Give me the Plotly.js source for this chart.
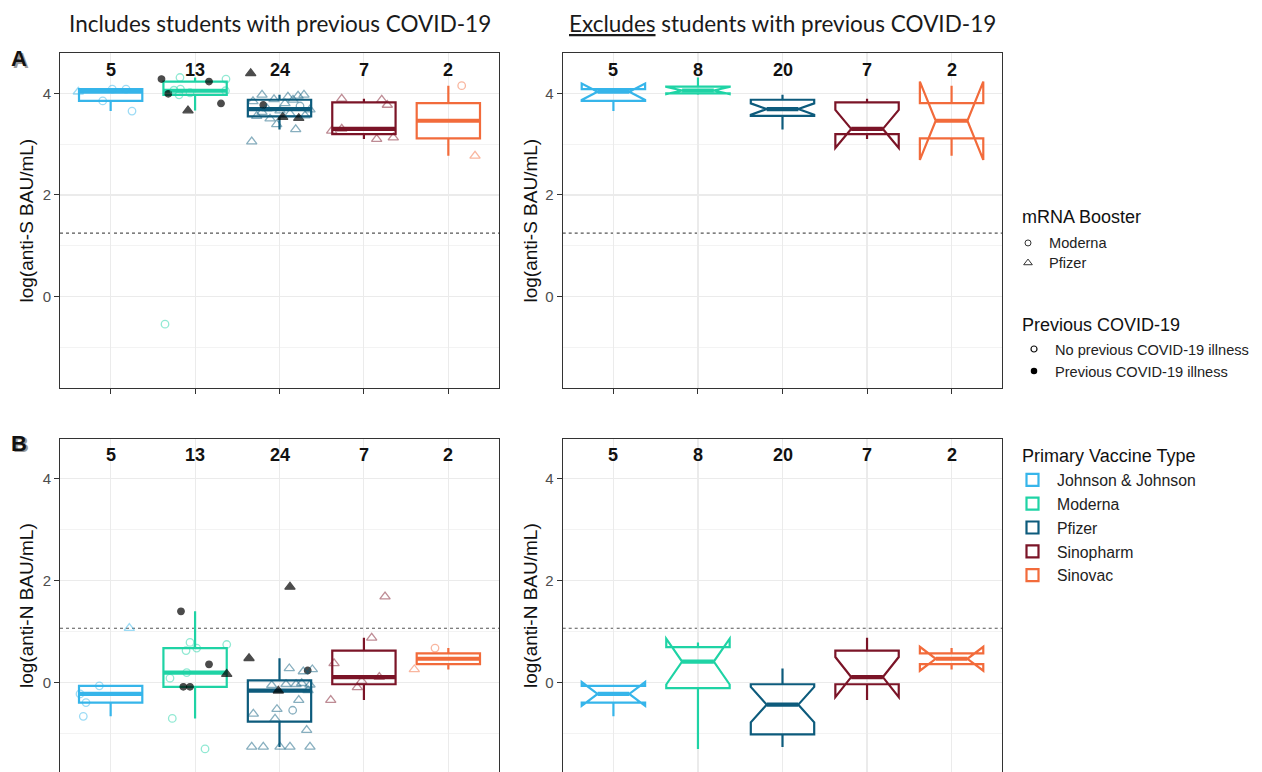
<!DOCTYPE html>
<html><head><meta charset="utf-8">
<script src="https://cdn.plot.ly/plotly-3.0.1.min.js"></script>
<style>html,body{margin:0;padding:0;overflow:hidden;background:#fff}#chart{width:1262px;height:800px}</style>
</head><body><div id="chart"></div>
<script>
// ---------------- data ----------------
const vaccines = ['Johnson & Johnson','Moderna','Pfizer','Sinopharm','Sinovac'];
const vaccineColors = ['#36B5EA','#1FD3A5','#0D5B7C','#7B1427','#F26B3B'];
const countsIncl = [5,13,24,7,2];
const countsExcl = [5,8,20,7,2];
const thresholdS = 1.25;
const thresholdN = 1.07;

// anti-S (panel A): one entry per student
const sGroup = [0,0,0,0,0, 1,1,1,1,1,1,1,1,1,1,1,1,1,
  2,2,2,2,2,2,2,2,2,2,2,2,2,2,2,2,2,2,2,2,2,2,2,2, 3,3,3,3,3,3,3, 4,4];
const sX = [0.617,0.906,1.019,1.182,1.253,
  1.602,2.165,1.683,2.307,1.916,1.821,2.366,1.750,1.827,1.810,1.940,2.360,1.644,
  2.659,2.808,3.038,3.228,2.671,3.192,2.967,2.888,2.730,3.302,3.124,2.793,3.006,3.361,2.852,3.243,3.065,2.686,3.160,2.935,3.100,3.220,2.793,3.290,
  3.737,4.211,4.277,3.618,3.737,4.151,4.348,
  5.158,5.316];
const sVal = [4.03,3.85,4.08,4.08,3.65,
  4.28,4.23,3.99,3.80,3.66,4.31,4.28,4.06,4.08,3.97,4.01,4.05,-0.54,
  4.39,3.77,3.53,3.51,3.05,3.29,3.39,3.50,3.55,3.56,3.60,3.63,3.66,3.68,3.70,3.75,3.80,3.84,3.87,3.88,3.93,3.95,3.97,3.97,
  3.89,3.87,3.77,3.26,3.30,3.10,3.13,
  4.15,2.77];
const sBooster = ['P','M','M','M','M',
  'M','M','M','M','P','M','M','M','M','M','M','M','M',
  'P','M','P','P','P','P','P','P','P','P','P','P','P','P','P','M','P','P','P','P','P','P','P','P',
  'P','P','P','P','P','P','P',
  'M','P'];
const sPrior = [0,0,0,0,0,
  1,1,1,1,1,0,0,0,0,0,0,0,0,
  1,1,1,1,0,0,0,0,0,0,0,0,0,0,0,0,0,0,0,0,0,0,0,0,
  0,0,0,0,0,0,0,
  0,0];

// anti-N (panel B)
const nGroup = sGroup.slice();
const nX = [0.866,0.637,0.708,0.676,1.221,
  1.833,2.165,1.861,1.940,2.375,1.940,1.893,2.019,2.375,1.703,1.901,1.730,2.118,
  3.124,2.639,2.986,3.334,2.671,2.808,3.006,3.124,3.361,3.322,2.947,2.690,3.156,2.970,3.228,3.338,2.908,3.361,3.077,3.196,3.263,3.282,3.389,3.116,
  3.646,3.607,3.922,3.974,4.182,4.092,4.250,
  4.842,4.597];
const nVal = [-0.06,-0.22,-0.39,-0.66,1.07,
  1.40,0.36,-0.08,-0.08,0.17,0.79,0.63,0.68,0.75,0.09,0.20,-0.70,-1.30,
  1.88,0.48,-0.16,0.24,-1.26,-1.26,-1.26,-1.26,-1.26,-0.93,-0.71,-0.61,-0.54,-0.52,-0.34,-0.15,-0.05,-0.04,-0.03,-0.03,-0.01,0.22,0.26,0.28,
  0.38,-0.34,-0.09,0.03,0.11,0.88,1.69,
  0.68,0.26];
const nBooster = ['M','M','M','M','P',
  'M','M','M','M','P','M','M','M','M','M','M','M','M',
  'P','P','P','M','P','P','P','P','P','P','P','P','M','P','P','P','P','P','P','P','P','P','P','P',
  'P','P','P','P','P','P','P',
  'M','P'];
const nPrior = [0,0,0,0,0,
  1,1,1,1,1,0,0,0,0,0,0,0,0,
  1,1,1,1,0,0,0,0,0,0,0,0,0,0,0,0,0,0,0,0,0,0,0,0,
  0,0,0,0,0,0,0,
  0,0];

const legendTitles = ['mRNA Booster','Previous COVID-19','Primary Vaccine Type'];
const boosterNames = ['Moderna','Pfizer'];
const priorNames = ['No previous COVID-19 illness','Previous COVID-19 illness'];

// ---------------- helpers ----------------
function quant(s, p){ const h=(s.length-1)*p, lo=Math.floor(h), hi=Math.ceil(h); return s[lo]+(h-lo)*(s[hi]-s[lo]); }
function boxStats(vals){
  const s=vals.slice().sort((a,b)=>a-b);
  const q1=quant(s,0.25), med=quant(s,0.5), q3=quant(s,0.75), iqr=q3-q1;
  const lo=s.find(v=>v>=q1-1.5*iqr);
  const hi=s.slice().reverse().find(v=>v<=q3+1.5*iqr);
  return {q1, med, q3, lo, hi, notch:1.58*iqr/Math.sqrt(s.length)};
}
function rgba(hex,a){ const n=parseInt(hex.slice(1),16); return `rgba(${n>>16},${(n>>8)&255},${n&255},${a})`; }
const sp = (t,s)=>`<span style="font-size:${s}px">${t}</span>`;

const FONT = 'Liberation Sans, Arial, sans-serif';
const BOXW = 0.75;
const XRANGE = [0.4,5.6];

const panels = [
  {xa:'x',  ya:'y',  grp:sGroup, xs:sX, vals:sVal, boo:sBooster, pri:sPrior, excl:false, counts:countsIncl, thr:thresholdS},
  {xa:'x2', ya:'y2', grp:sGroup, xs:sX, vals:sVal, boo:sBooster, pri:sPrior, excl:true,  counts:countsExcl, thr:thresholdS},
  {xa:'x3', ya:'y3', grp:nGroup, xs:nX, vals:nVal, boo:nBooster, pri:nPrior, excl:false, counts:countsIncl, thr:thresholdN, legend:true},
  {xa:'x4', ya:'y4', grp:nGroup, xs:nX, vals:nVal, boo:nBooster, pri:nPrior, excl:true,  counts:countsExcl, thr:thresholdN}
];

const boxTraces=[], medTraces=[], ptTraces=[];
panels.forEach(p=>{
  vaccines.forEach((v,g)=>{
    const vals = p.vals.filter((_,i)=>p.grp[i]===g && (!p.excl || p.pri[i]===0));
    const st = boxStats(vals);
    boxTraces.push({type:'box', name:sp(v,15.8), x:[g+1], q1:[st.q1], median:[st.med], q3:[st.q3],
      lowerfence:[st.lo], upperfence:[st.hi], notchspan:[st.notch], notched:p.excl, notchwidth:0.25,
      width:BOXW, whiskerwidth:0, line:{color:vaccineColors[g], width:2.2}, fillcolor:'rgba(255,255,255,0)',
      xaxis:p.xa, yaxis:p.ya, showlegend:!!p.legend, legend:'legend3', hoverinfo:'skip'});
    const hw = p.excl ? BOXW/4 : BOXW/2;
    medTraces.push({type:'scatter', mode:'lines', x:[g+1-hw, g+1+hw], y:[st.med, st.med],
      line:{color:vaccineColors[g], width:4.2}, xaxis:p.xa, yaxis:p.ya, showlegend:false, hoverinfo:'skip'});
  });
  if(!p.excl){
    const sym=[], col=[], sz=[];
    p.vals.forEach((_,i)=>{
      const tri = p.boo[i]==='P', prior = p.pri[i]===1;
      sym.push(tri ? (prior?'triangle-up':'triangle-up-open') : (prior?'circle':'circle-open'));
      col.push(prior ? '#000000' : rgba(vaccineColors[p.grp[i]],0.7));
      sz.push(tri ? 9 : (prior ? 6.5 : 7.5));
    });
    ptTraces.push({type:'scatter', mode:'markers', x:p.xs, y:p.vals,
      marker:{symbol:sym, color:col, size:sz, line:{width:1.3, color:'#000'}},
      xaxis:p.xa, yaxis:p.ya, showlegend:false, hoverinfo:'skip'});
  }
});

const legendTraces = [
  {type:'scatter', mode:'markers', x:[null], y:[null], name:sp(boosterNames[0],14.6), legend:'legend', marker:{symbol:'circle-open', size:6, color:'#333', line:{width:1}}},
  {type:'scatter', mode:'markers', x:[null], y:[null], name:sp(boosterNames[1],14.6), legend:'legend', marker:{symbol:'triangle-up-open', size:7.5, color:'#333', line:{width:1}}},
  {type:'scatter', mode:'markers', x:[null], y:[null], name:sp(priorNames[0],14.6), legend:'legend2', marker:{symbol:'circle-open', size:6, color:'#111', line:{width:1.2}}},
  {type:'scatter', mode:'markers', x:[null], y:[null], name:sp(priorNames[1],14.6), legend:'legend2', marker:{symbol:'circle', size:6.5, color:'#000'}}
];

// ---------------- layout ----------------
const W=1262, H=800;
const px = v=>v/W, py = v=>1-v/H;
const xdomL=[px(60),px(499)], xdomR=[px(562.7),px(1002.3)];
const ydomT=[py(388),py(53)], ydomB=[py(774.2),py(438.5)];

function xax(dom, anchor){ return {domain:dom, anchor, range:XRANGE, tickmode:'array', tickvals:[1,2,3,4,5], showticklabels:false,
  ticks:'outside', ticklen:5, tickwidth:1, tickcolor:'#333', showgrid:true, gridcolor:'#ebebeb', gridwidth:1.1,
  zeroline:false, showline:true, mirror:true, linecolor:'#333', linewidth:1, fixedrange:true}; }
function yax(dom, anchor){ return {domain:dom, anchor, range:[-1.795,4.792], tickmode:'linear', tick0:0, dtick:2,
  ticks:'outside', ticklen:5, tickwidth:1, tickcolor:'#333', tickfont:{family:FONT, size:15, color:'#4d4d4d'},
  showgrid:true, gridcolor:'#ebebeb', gridwidth:1.1,
  minor:{tickmode:'linear', tick0:-1, dtick:2, showgrid:true, gridcolor:'#f3f3f3', gridwidth:1, ticks:''},
  zeroline:false, showline:true, mirror:true, linecolor:'#333', linewidth:1, fixedrange:true}; }

const annotations = [];
const TFONT = 'Lato, Liberation Sans, sans-serif';
const ann = (o)=>annotations.push(Object.assign({xref:'paper', yref:'paper', showarrow:false, xanchor:'center', yanchor:'middle'}, o));
ann({text:'Includes students with previous COVID-19', x:px(279.5), y:py(23), font:{family:TFONT, size:22.5, color:'#1a1a1a'}});
ann({text:'<u>Excludes</u> students with previous COVID-19', x:px(782.5), y:py(23), font:{family:TFONT, size:22.5, color:'#1a1a1a'}});
[['A',59],['B',443]].forEach(([t,y])=>{
  ann({text:'<b>'+t+'</b>', x:px(20.5), y:py(y+1.5), font:{family:FONT, size:22, color:'#9a9a9a'}});
  ann({text:'<b>'+t+'</b>', x:px(19), y:py(y), font:{family:FONT, size:22, color:'#111'}});
});
[['log(anti-S BAU/mL)',26,220.5],['log(anti-S BAU/mL)',530,220.5],['log(anti-N BAU/mL)',26,606],['log(anti-N BAU/mL)',530,606]].forEach(([t,x,y])=>{
  ann({text:t, x:px(x), y:py(y), textangle:-90, font:{family:FONT, size:19, color:'#111'}});
});
panels.forEach((p,k)=>{
  const yy = k<2 ? 70 : 455;
  p.counts.forEach((c,g)=>ann({text:'<b>'+c+'</b>', x:g+1, xref:p.xa, y:py(yy), font:{family:FONT, size:18, color:'#111'}}));
});
[[legendTitles[0],217],[legendTitles[1],325],[legendTitles[2],456]].forEach(([t,y])=>{
  ann({text:t, x:px(1020), y:py(y), xanchor:'left', font:{family:FONT, size:18, color:'#111'}});
});

const shapes = panels.map(p=>({type:'line', xref:p.xa, x0:XRANGE[0], x1:XRANGE[1], yref:p.ya, y0:p.thr, y1:p.thr, layer:'below',
  line:{color:'#555', width:1.1, dash:'3px,3px'}}));

const legBase = {xanchor:'left', yanchor:'top', bgcolor:'rgba(0,0,0,0)', itemclick:false, itemdoubleclick:false, tracegroupgap:0, itemwidth:32};
const layout = {
  width:W, height:H, margin:{l:0,r:0,t:0,b:0}, paper_bgcolor:'#fff', plot_bgcolor:'#fff',
  font:{family:FONT, color:'#222'}, hovermode:false, showlegend:true, boxmode:'overlay',
  xaxis:xax(xdomL,'y'), yaxis:yax(ydomT,'x'),
  xaxis2:xax(xdomR,'y2'), yaxis2:yax(ydomT,'x2'),
  xaxis3:xax(xdomL,'y3'), yaxis3:yax(ydomB,'x3'),
  xaxis4:xax(xdomR,'y4'), yaxis4:yax(ydomB,'x4'),
  legend:Object.assign({}, legBase, {x:px(1007), y:py(228), font:{size:13, color:'#222'}}),
  legend2:Object.assign({}, legBase, {x:px(1013), y:py(333), font:{size:14.6, color:'#222'}}),
  legend3:Object.assign({}, legBase, {x:px(1008), y:py(463), itemwidth:39, font:{size:16, color:'#222'}}),
  annotations, shapes
};

Plotly.newPlot('chart', [...boxTraces, ...medTraces, ...ptTraces, ...legendTraces], layout, {displayModeBar:false, staticPlot:true});
</script></body></html>
